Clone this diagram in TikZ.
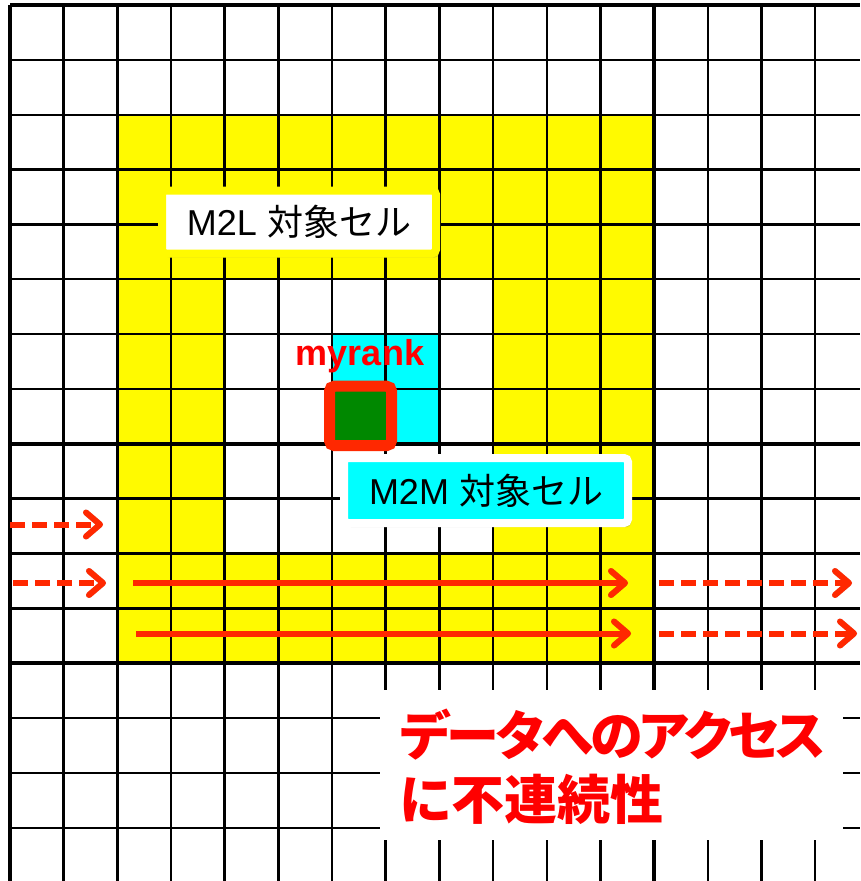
\documentclass[tikz,border=0pt]{standalone}
\usepackage{fontspec}
\setmainfont{Liberation Sans}
\newfontfamily\jp{Noto Sans CJK JP}
\newfontfamily\jpp{Noto Sans CJK JP}[RawFeature=+palt]
\newfontfamily\jppt{Noto Sans CJK JP}[RawFeature=+palt,LetterSpace=-5.3]
\usetikzlibrary{arrows.meta,shadows}
\definecolor{ylw}{RGB}{255,250,0}
\definecolor{cyn}{RGB}{0,255,255}
\definecolor{grn}{RGB}{0,136,0}
\definecolor{arw}{RGB}{255,40,0}
\definecolor{txtred}{RGB}{255,0,0}
\begin{document}
\begin{tikzpicture}[x=1pt,y=-1pt,
  labelbox/.style={rounded corners=4pt,line width=8pt,inner sep=0pt,
    drop shadow={shadow xshift=3pt,shadow yshift=-4pt,opacity=0.3},
    font=\fontsize{36}{40}\selectfont},
  arrowline/.style={draw=arw,line width=6pt,line cap=butt,
    -{Straight Barb[length=14pt,width=24pt,round]}},
  dasharrow/.style={arrowline,dash pattern=on 15pt off 7pt},
  shadowline/.style={draw=black,line width=6pt,
    -{Straight Barb[length=14pt,width=24pt,round]}},
  shadowdash/.style={shadowline,dash pattern=on 15pt off 7pt}]
\useasboundingbox (0,0) rectangle (860,881);
\fill[white] (0,0) rectangle (860,881);
% coloured cells
\fill[ylw,even odd rule] (117.34,114.7) rectangle (654.04,663.2)
  (224.68,279.25) rectangle (493.03,553.5);
\fill[cyn] (332.02,334.1) rectangle (439.36,443.8);
% grid
\foreach \k in {0,...,15}{
  \pgfmathtruncatemacro\m{mod(\k,4)}
  \ifnum\m=0 \def\lw{3.6pt}\else\def\lw{2.4pt}\fi
  \draw[line width=\lw] ({10+53.67*\k},5) -- ({10+53.67*\k},881);
  \draw[line width=\lw] (10,{5+54.85*\k}) -- (860,{5+54.85*\k});
}
% white area behind the note
\node (notebg) [fill=white,inner sep=0pt,minimum width=463pt,minimum height=150pt] at (611.5,765) {};
% myrank cell
\node (myrank) [draw=arw,fill=grn,line width=11pt,rounded corners=5pt,inner sep=0pt,
  minimum width=62pt,minimum height=59.5pt] at (360.5,415.9) {};
\node (myranklabel) [anchor=base,text=txtred,inner sep=0pt,font=\fontsize{36}{40}\selectfont\bfseries] at (360,365) {myrank};
% labels
\node (m2l) [labelbox,draw=ylw,fill=white,minimum width=274pt,minimum height=63pt] at (299,222)
  {M2L {\jp 対象セル}};
\node (m2m) [labelbox,draw=white,fill=cyn,minimum width=284pt,minimum height=65pt] at (486,490.5)
  {M2M {\jp 対象セル}};
% arrows
\coordinate (a1s) at (10,524.5);  \coordinate (a1e) at (103,524.5);
\coordinate (a2s) at (13,583);    \coordinate (a2e) at (106,583);
\coordinate (a3s) at (133,583);   \coordinate (a3e) at (628,583);
\coordinate (a4s) at (659,583);   \coordinate (a4e) at (852,583);
\coordinate (a5s) at (136,633.5); \coordinate (a5e) at (631,633.5);
\coordinate (a6s) at (659,633.5); \coordinate (a6e) at (857,633.5);
\begin{scope}[shift={(2,3)},opacity=0.22]
\draw[shadowdash] (a1s) -- (a1e);
\draw[shadowdash] (a2s) -- (a2e);
\draw[shadowline] (a3s) -- (a3e);
\draw[shadowdash] (a4s) -- (a4e);
\draw[shadowline] (a5s) -- (a5e);
\draw[shadowdash] (a6s) -- (a6e);
\end{scope}
\draw[dasharrow] (a1s) -- (a1e);
\draw[dasharrow] (a2s) -- (a2e);
\draw[arrowline] (a3s) -- (a3e);
\draw[dasharrow] (a4s) -- (a4e);
\draw[arrowline] (a5s) -- (a5e);
\draw[dasharrow] (a6s) -- (a6e);
% note text
\node (note) [anchor=west,align=left,inner sep=0pt,text=txtred,
  font=\bfseries\fontsize{53}{64}\selectfont] at (400,767)
  {{\jppt\bfseries データへのアクセス}\\{\jpp\bfseries に不連続性}};
\end{tikzpicture}
\end{document}
